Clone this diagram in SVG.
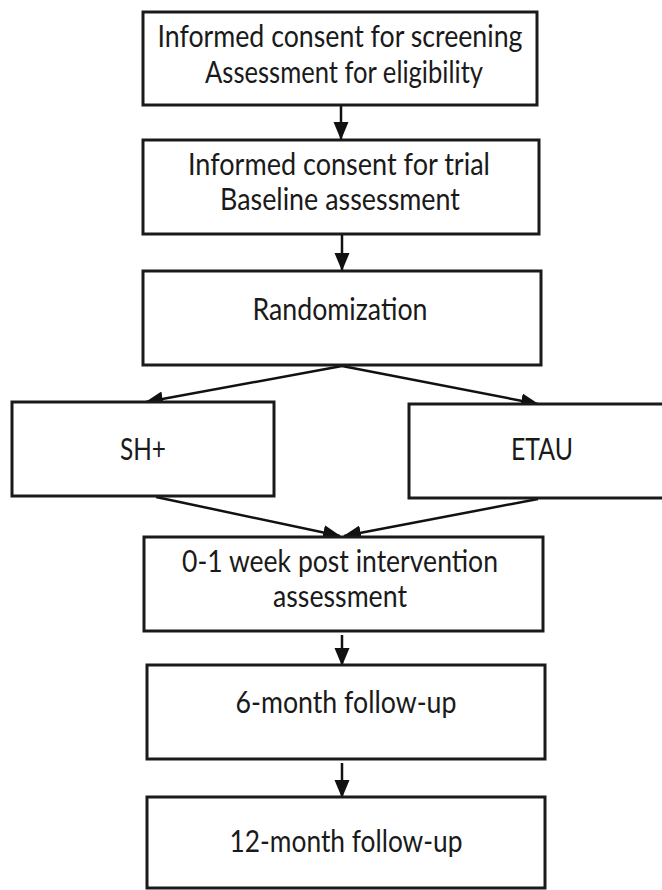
<svg xmlns="http://www.w3.org/2000/svg" width="662" height="890" viewBox="0 0 662 890">
<style>
.box{fill:#fff;stroke:#1a1a1a;stroke-width:3}
.t{font-family:Lato,"Open Sans",sans-serif;font-size:30px;fill:#1a1a1a;text-anchor:middle}
.c{stroke:#111;stroke-width:2.5;fill:none;marker-end:url(#ah)}
</style>
<defs>
<marker id="ah" markerUnits="userSpaceOnUse" markerWidth="18" markerHeight="18" viewBox="0 0 18 18" refX="17" refY="9" orient="auto">
<path d="M0,1.5 L18,9 L0,16.5 Z" fill="#111"/>
</marker>
</defs>
<rect width="662" height="890" fill="#fff"/>
<g id="connectors">
<line class="c" x1="341" y1="106" x2="341" y2="139"/>
<line class="c" x1="342" y1="235" x2="342" y2="270"/>
<line class="c" x1="342" y1="366" x2="146" y2="402"/>
<line class="c" x1="342" y1="366" x2="538" y2="404"/>
<line class="c" x1="156" y1="497" x2="340" y2="536"/>
<line class="c" x1="538" y1="499" x2="344" y2="536"/>
<line class="c" x1="342" y1="635" x2="342" y2="665"/>
<line class="c" x1="342" y1="763" x2="342" y2="797"/>
</g>
<g id="n1">
<rect class="box" x="143" y="12" width="394" height="93"/>
<text class="t" x="340" y="47" textLength="365" lengthAdjust="spacingAndGlyphs">Informed consent for screening</text>
<text class="t" x="344" y="83" textLength="278" lengthAdjust="spacingAndGlyphs">Assessment for eligibility</text>
</g>
<g id="n2">
<rect class="box" x="143" y="140" width="396" height="94"/>
<text class="t" x="339" y="175" textLength="302" lengthAdjust="spacingAndGlyphs">Informed consent for trial</text>
<text class="t" x="340" y="210" textLength="240" lengthAdjust="spacingAndGlyphs">Baseline assessment</text>
</g>
<g id="n3">
<rect class="box" x="143" y="271" width="398" height="94"/>
<text class="t" x="340" y="320" textLength="175" lengthAdjust="spacingAndGlyphs">Randomization</text>
</g>
<g id="n4">
<rect class="box" x="12" y="402" width="262" height="94"/>
<text class="t" x="143" y="460" textLength="46" lengthAdjust="spacingAndGlyphs">SH+</text>
</g>
<g id="n5">
<rect class="box" x="409" y="404" width="256" height="94"/>
<text class="t" x="542" y="460" textLength="62" lengthAdjust="spacingAndGlyphs">ETAU</text>
</g>
<g id="n6">
<rect class="box" x="144" y="537" width="399" height="94"/>
<text class="t" x="340" y="572" textLength="316" lengthAdjust="spacingAndGlyphs">0-1 week post intervention</text>
<text class="t" x="340" y="607" textLength="134" lengthAdjust="spacingAndGlyphs">assessment</text>
</g>
<g id="n7">
<rect class="box" x="147" y="665" width="398" height="94"/>
<text class="t" x="346" y="713" textLength="221" lengthAdjust="spacingAndGlyphs">6-month follow-up</text>
</g>
<g id="n8">
<rect class="box" x="147" y="797" width="398" height="91"/>
<text class="t" x="346" y="852" textLength="233" lengthAdjust="spacingAndGlyphs">12-month follow-up</text>
</g>
</svg>
